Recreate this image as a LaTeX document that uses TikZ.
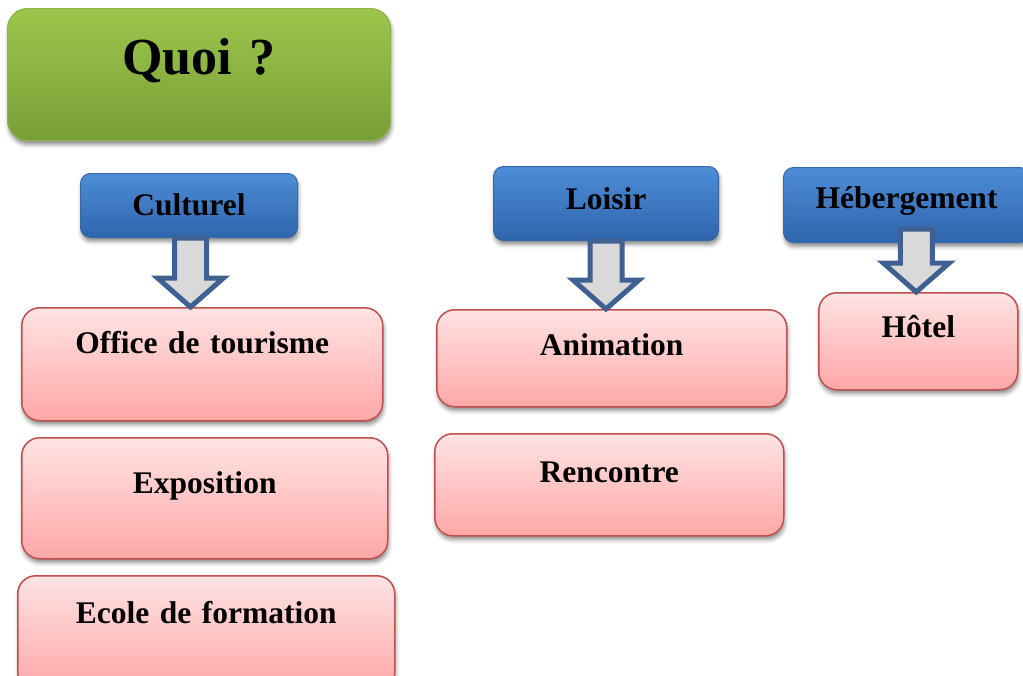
\documentclass[tikz,border=0pt]{standalone}
\usepackage{fontspec}
\setmainfont{Liberation Serif}
\usepackage{tikz}
\usetikzlibrary{
	arrows.meta,
	positioning,
	calc,
	shadows.blur
}
\usepackage{xcolor}
\definecolor{greentop}{HTML}{9DC64C}
\definecolor{greenbot}{HTML}{779F37}
\definecolor{greenedge}{HTML}{8CB445}
\definecolor{bluetop}{HTML}{4E8DD8}
\definecolor{bluebot}{HTML}{2F65AC}
\definecolor{blueedge}{HTML}{3768A8}
\definecolor{pinktop}{HTML}{FFE3E3}
\definecolor{pinkbot}{HTML}{FFA7A7}
\definecolor{pinkedge}{HTML}{C0504D}
\definecolor{arrowfill}{HTML}{D9D9D9}
\definecolor{arrowedge}{HTML}{3E6191}

\begin{document}
\begin{tikzpicture}[x=1pt,y=-1pt,>=Stealth,
		box/.style={inner sep=0pt,align=center,anchor=north west,
			font=\fontsize{31.5}{36}\selectfont\bfseries,
			blur shadow={shadow xshift=1pt,shadow yshift=-4pt,shadow blur radius=4pt,shadow opacity=45}},
		greenbox/.style={box,rounded corners=20pt,draw=greenedge,line width=1.2pt,
			top color=greentop,bottom color=greenbot,font=\fontsize{52}{60}\selectfont\bfseries},
		bluebox/.style={box,rounded corners=10pt,draw=blueedge,line width=1pt,
			top color=bluetop,bottom color=bluebot},
		pinkbox/.style={box,rounded corners=18pt,draw=pinkedge,line width=1.5pt,
			top color=pinktop,bottom color=pinkbot},
		blockarrow/.style={fill=arrowfill,draw=arrowedge,line width=5pt,line join=miter,
			to path={let \p1=(\tikztostart), \p2=(\tikztotarget) in
				(\x1-16pt,\y1) -- (\x1+16pt,\y1) -- (\x1+16pt,\y2+29pt) -- (\x1+33pt,\y2+29pt)
				-- (\x1,\y2) -- (\x1-33pt,\y2+29pt) -- (\x1-16pt,\y2+29pt) -- cycle}}
	]
			
			\useasboundingbox (0,0) rectangle (1023,675);
			\clip (0,0) rectangle (1023,675);
			
			\node[greenbox,text width=383pt,text height=66pt,text depth=66pt] (quoi) at (7,8) {Quoi ?};
			
			\node[bluebox,text width=217pt,text height=42pt,text depth=22pt] (cult) at (80,173) {Culturel};
			\node[bluebox,text width=225pt,text height=43pt,text depth=31pt] (loisir) at (493,166) {Loisir};
			\node[bluebox,text width=246pt,text height=41pt,text depth=34pt] (heb) at (783,167) {Hébergement};
			
			\node[pinkbox,text width=361pt,text height=46pt,text depth=67pt] (office) at (21,307) {Office de tourisme};
			\node[pinkbox,text width=366pt,text height=56pt,text depth=65pt] (expo) at (21,437) {Exposition};
			\node[pinkbox,text width=377pt,text height=48pt,text depth=67pt] (ecole) at (17,575) {Ecole de formation};
			
			\node[pinkbox,text width=350pt,text height=46pt,text depth=51pt] (anim) at (436,309) {Animation};
			\node[pinkbox,text width=349pt,text height=49pt,text depth=53pt] (renc) at (434,433) {Rencontre};
			
			\node[pinkbox,text width=199pt,text height=45pt,text depth=52pt] (hotel) at (818,292) {Hôtel};
			
			\coordinate (cultfoot) at ($(cult.south)+(1.5,0)$);
			\coordinate (hebfoot) at ($(heb.south -| hotel.north)+(-2,-14)$);
			
			\draw[blockarrow] (cultfoot) to (cultfoot |- office.north);
			\draw[blockarrow] (loisir.south) to (loisir.south |- anim.north);
			\draw[blockarrow] (hebfoot) to (hebfoot |- hotel.north);
			
		\end{tikzpicture}
\end{document}
